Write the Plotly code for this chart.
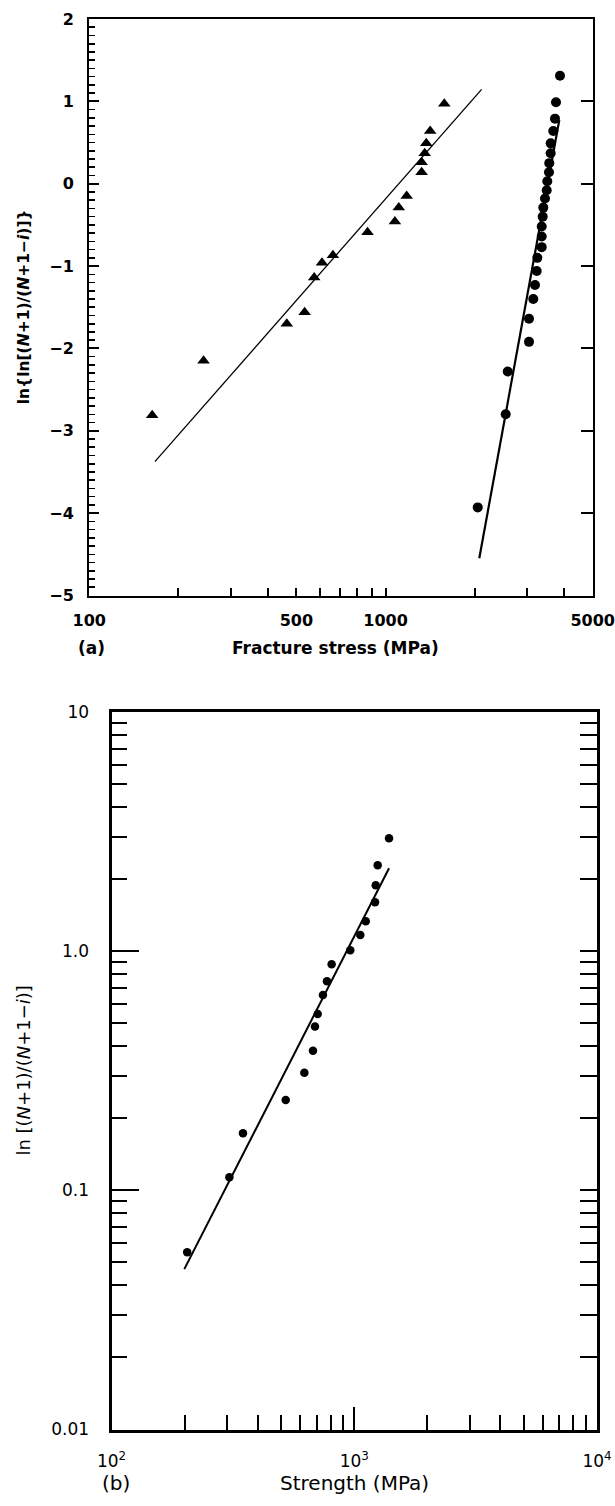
import math
import plotly.graph_objects as go

# ---------------- data: panel (a) ----------------
tri_stress = [163, 243, 464, 533, 574, 610, 664, 869, 1075, 1108, 1178,
              1323, 1323, 1355, 1372, 1414, 1578]
tri_lnln = [-2.81, -2.15, -1.70, -1.56, -1.14, -0.96, -0.87, -0.59, -0.46,
            -0.29, -0.15, 0.14, 0.26, 0.37, 0.49, 0.64, 0.97]

circ_stress = [2046, 2543, 2583, 3048, 3048, 3151, 3193, 3236, 3251, 3364,
               3364, 3364, 3390, 3406, 3451, 3497, 3513, 3560, 3568, 3607,
               3607, 3681, 3730, 3759, 3878]
circ_lnln = [-3.93, -2.80, -2.28, -1.92, -1.64, -1.40, -1.23, -1.06, -0.90,
             -0.77, -0.64, -0.52, -0.40, -0.29, -0.18, -0.08, 0.03, 0.14,
             0.25, 0.37, 0.49, 0.64, 0.79, 0.99, 1.31]

tri_fit_x = [166.5, 2109]
tri_fit_y = [-3.375, 1.146]
circ_fit_x = [2071, 3857]
circ_fit_y = [-4.548, 0.774]

a_xtick_vals = [100, 500, 1000, 5000]
a_xtick_text = ["100", "500", "1000", "5000"]
a_xminor = [200, 300, 400, 600, 700, 800, 900, 2000, 3000, 4000]
a_ytick_vals = [-5, -4, -3, -2, -1, 0, 1, 2]
a_ytick_text = ["\u22125", "\u22124", "\u22123", "\u22122", "\u22121", "0", "1", "2"]

# ---------------- data: panel (b) ----------------
b_strength = [205, 306, 348, 522, 623, 676, 689, 707, 743, 772, 807, 963,
              1059, 1115, 1218, 1226, 1249, 1391]
b_lnratio = [0.0551, 0.1133, 0.173, 0.2384, 0.310, 0.383, 0.483, 0.545,
             0.655, 0.747, 0.880, 1.007, 1.166, 1.331, 1.598, 1.883, 2.28, 2.96]
b_fit_x = [199.5, 1391]
b_fit_y = [0.0468, 2.216]

b_xtick_vals = [100, 1000, 10000]
b_xtick_text = ["10<sup>2</sup>", "10<sup>3</sup>", "10<sup>4</sup>"]
b_xminor = [200, 300, 400, 500, 600, 700, 800, 900,
            2000, 3000, 4000, 5000, 6000, 7000, 8000, 9000]
b_ytick_vals = [0.01, 0.1, 1, 10]
b_ytick_text = ["0.01", "0.1", "1.0", "10"]
b_yminor = [0.02, 0.03, 0.04, 0.05, 0.06, 0.07, 0.08, 0.09,
            0.2, 0.3, 0.4, 0.5, 0.6, 0.7, 0.8, 0.9,
            2, 3, 4, 5, 6, 7, 8, 9]

# ---------------- layout geometry (pixels) ----------------
W, H = 615, 1506
FONT = "DejaVu Sans"


def px_x(p):
    return p / W


def px_y(p):
    return 1 - p / H


a_left, a_right, a_top, a_bottom = 89.3, 592.7, 19.0, 595.5
b_left, b_right, b_top, b_bottom = 111.5, 597.0, 711.7, 1429.5

fig = go.Figure()

# panel (a)
fig.add_trace(go.Scatter(x=tri_fit_x, y=tri_fit_y, mode="lines",
                         line=dict(color="black", width=1.3),
                         xaxis="x", yaxis="y", hoverinfo="skip"))
fig.add_trace(go.Scatter(x=circ_fit_x, y=circ_fit_y, mode="lines",
                         line=dict(color="black", width=2.2),
                         xaxis="x", yaxis="y", hoverinfo="skip"))
fig.add_trace(go.Scatter(x=tri_stress, y=tri_lnln, mode="markers",
                         marker=dict(symbol="triangle-up", size=11, color="black"),
                         xaxis="x", yaxis="y"))
fig.add_trace(go.Scatter(x=circ_stress, y=circ_lnln, mode="markers",
                         marker=dict(symbol="circle", size=10, color="black"),
                         xaxis="x", yaxis="y"))
fig.add_trace(go.Scatter(x=[None], y=[None], xaxis="x", yaxis="y3",
                         hoverinfo="skip"))

# panel (b)
fig.add_trace(go.Scatter(x=b_fit_x, y=b_fit_y, mode="lines",
                         line=dict(color="black", width=2),
                         xaxis="x2", yaxis="y2", hoverinfo="skip"))
fig.add_trace(go.Scatter(x=b_strength, y=b_lnratio, mode="markers",
                         marker=dict(symbol="circle", size=8.5, color="black"),
                         xaxis="x2", yaxis="y2"))
fig.add_trace(go.Scatter(x=[None], y=[None], xaxis="x2", yaxis="y4",
                         hoverinfo="skip"))

tickfont_a = dict(family=FONT, size=16, color="black", weight="bold")
tickfont_b = dict(family=FONT, size=17, color="black")

common = dict(showgrid=False, zeroline=False, linecolor="black",
              tickcolor="black", automargin=False)

fig.update_layout(
    template="none",
    width=W, height=H,
    margin=dict(l=0, r=0, t=0, b=0, pad=0),
    paper_bgcolor="white", plot_bgcolor="white",
    showlegend=False,
    xaxis=dict(domain=[px_x(a_left), px_x(a_right)], type="log",
               range=[2, math.log10(5000)], anchor="y",
               showline=True, linewidth=2.2, mirror=True,
               ticks="inside", ticklen=8, tickwidth=2,
               tickmode="array", tickvals=a_xtick_vals, ticktext=a_xtick_text,
               tickfont=tickfont_a, ticklabelstandoff=9,
               minor=dict(tickmode="array", tickvals=a_xminor, ticklen=8,
                          tickwidth=2, ticks="inside", tickcolor="black",
                          showgrid=False),
               **common),
    yaxis=dict(domain=[px_y(a_bottom), px_y(a_top)], range=[-5, 2], anchor="x",
               showline=True, linewidth=2.2, mirror=True,
               ticks="inside", ticklen=10, tickwidth=2,
               tickmode="array", tickvals=a_ytick_vals, ticktext=a_ytick_text,
               tickfont=tickfont_a, ticklabelstandoff=10,
               minor=dict(dtick=0.1, ticklen=6, tickwidth=1.6, ticks="inside",
                          tickcolor="black", showgrid=False),
               **common),
    yaxis3=dict(overlaying="y", side="right", anchor="x", range=[-5, 2],
                showline=False, ticks="inside", ticklen=12, tickwidth=2,
                tickmode="array", tickvals=a_ytick_vals, showticklabels=False,
                **common),
    xaxis2=dict(domain=[px_x(b_left), px_x(b_right)], type="log",
                range=[2, 4], anchor="y2",
                showline=True, linewidth=3, mirror=True,
                ticks="inside", ticklen=23, tickwidth=2,
                tickmode="array", tickvals=b_xtick_vals, ticktext=b_xtick_text,
                tickfont=tickfont_b, ticklabelstandoff=14,
                minor=dict(tickmode="array", tickvals=b_xminor, ticklen=15,
                           tickwidth=2, ticks="inside", tickcolor="black",
                           showgrid=False),
                **common),
    yaxis2=dict(domain=[px_y(b_bottom), px_y(b_top)], type="log",
                range=[-2, 1], anchor="x2",
                showline=True, linewidth=3, mirror=True,
                ticks="inside", ticklen=27, tickwidth=2,
                tickmode="array", tickvals=b_ytick_vals, ticktext=b_ytick_text,
                tickfont=tickfont_b, ticklabelstandoff=16,
                minor=dict(tickmode="array", tickvals=b_yminor, ticklen=15.5,
                           tickwidth=2, ticks="inside", tickcolor="black",
                           showgrid=False),
                **common),
    yaxis4=dict(overlaying="y2", side="right", anchor="x2", type="log",
                range=[-2, 1], showline=False, ticks="inside", ticklen=17,
                tickwidth=2, tickmode="array",
                tickvals=b_yminor + [0.1, 1], showticklabels=False,
                **common),
)

title_font_a = dict(family=FONT, size=17, color="black", weight="bold")
ytitle_font_a = dict(family=FONT, size=15.5, color="black", weight="bold")
title_font_b = dict(family=FONT, size=20, color="black")
ytitle_font_b = dict(family=FONT, size=18, color="black")

annotations = [
    dict(text="(a)", x=px_x(91), y=px_y(648), font=title_font_a),
    dict(text="Fracture stress (MPa)", x=px_x(335), y=px_y(648), font=title_font_a),
    dict(text="ln{ln[(<i>N</i>+1)/(<i>N</i>+1\u2212<i>i</i>)]}", x=px_x(24),
         y=px_y((a_top + a_bottom) / 2), textangle=-90, font=ytitle_font_a),
    dict(text="(b)", x=px_x(116), y=px_y(1483), font=title_font_b),
    dict(text="Strength (MPa)", x=px_x(354), y=px_y(1483), font=title_font_b),
    dict(text="ln [(<i>N</i>+1)/(<i>N</i>+1\u2212<i>i</i>)]", x=px_x(24),
         y=px_y((b_top + b_bottom) / 2), textangle=-90, font=ytitle_font_b),
]
for a in annotations:
    a.update(xref="paper", yref="paper", showarrow=False,
             xanchor="center", yanchor="middle")
fig.update_layout(annotations=annotations)

fig.write_html("out.html",
               config={"displayModeBar": False, "staticPlot": True},
               post_script="document.body.style.margin='0';"
                           "document.body.style.overflow='hidden';")
